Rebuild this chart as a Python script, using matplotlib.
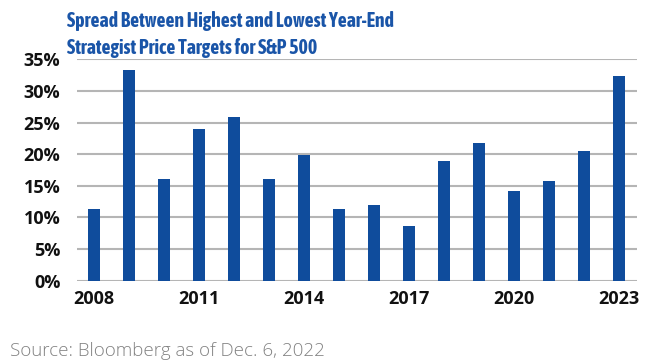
import matplotlib
matplotlib.use("Agg")
import matplotlib.pyplot as plt

years = list(range(2008, 2024))
spread = [11.4, 33.3, 16.0, 24.0, 25.9, 16.1, 19.9, 11.4, 11.9, 8.7, 18.9, 21.8, 14.2, 15.8, 20.5, 32.3]
tick_years = [2008, 2011, 2014, 2017, 2020, 2023]
y_ticks = [0, 5, 10, 15, 20, 25, 30, 35]

title_line1 = "Spread Between Highest and Lowest Year-End"
title_line2 = "Strategist Price Targets for S&P 500"
source = "Source: Bloomberg as of Dec. 6, 2022"

bar_color = "#0f4c9c"
title_color = "#1a55a8"

fig = plt.figure(figsize=(6.51, 3.64), dpi=100)
ax = fig.add_axes([77/651, 1 - 280.7/364, 560/651, (280.7 - 59.3)/364])

x = list(range(len(years)))
ax.bar(x, spread, width=0.33, color=bar_color, zorder=3)

ax.set_ylim(0, 35)
ax.set_xlim(-0.48, len(years) - 0.48)
ax.set_yticks(y_ticks)
ax.set_yticklabels([f"{v}%" for v in y_ticks], fontsize=13, fontweight="bold", family="Open Sans")
ax.set_xticks([years.index(y) for y in tick_years])
ax.set_xticklabels([str(y) for y in tick_years], fontsize=13, fontweight="bold", family="Open Sans")
ax.tick_params(axis="both", length=0, colors="#111111")
ax.tick_params(axis="y", pad=12)
ax.tick_params(axis="x", pad=7)
ax.grid(axis="y", color="#b5b5b5", linewidth=1.5, zorder=0)
for s in ax.spines.values():
    s.set_visible(False)

tfam = ["Asap Condensed", "Open Sans"]
t1 = fig.text(67/651, 1 - 27/364, title_line1, ha="left", va="baseline", fontsize=14, fontweight="bold",
              color=title_color, family=tfam)
t2 = fig.text(67/651, 1 - 54/364, title_line2, ha="left", va="baseline", fontsize=14, fontweight="bold",
              color=title_color, family=tfam)
fig.canvas.draw()
w = t1.get_window_extent().width
scale = 328.0 / w
t1.set_fontsize(14 * scale)
t2.set_fontsize(14 * scale)

fig.text(10/651, 1 - 356/364, source, ha="left", va="baseline", fontsize=13.5,
         color="#828282", family="Open Sans", fontweight="light")

fig.savefig("out.png", dpi=100)
